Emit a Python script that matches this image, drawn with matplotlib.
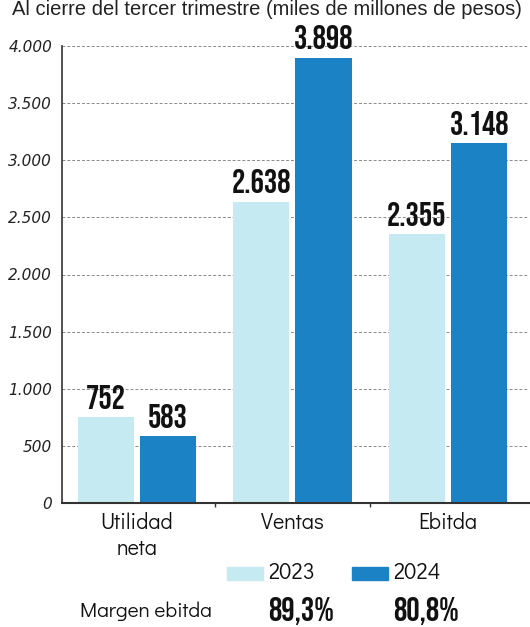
import matplotlib
matplotlib.use("Agg")
import matplotlib.pyplot as plt
import matplotlib.patches as mpatches
import numpy as np

categories = ["Utilidad\nneta", "Ventas", "Ebitda"]
values_2023 = [752, 2638, 2355]
values_2024 = [583, 3898, 3148]
labels_2023 = ["752", "2.638", "2.355"]
labels_2024 = ["583", "3.898", "3.148"]
series_names = ["2023", "2024"]
yticks = [0, 500, 1000, 1500, 2000, 2500, 3000, 3500, 4000]
ytick_labels = ["0", "500", "1.000", "1.500", "2.000", "2.500", "3.000", "3.500", "4.000"]
margin_label = "Margen ebitda"
margin_values = ["89,3%", "80,8%"]
title = "Al cierre del tercer trimestre (miles de millones de pesos)"

c_light = "#c6eaf2"
c_dark = "#1c82c6"
narrow = ["Bebas Neue", "DejaVu Sans"]
body = ["Didact Gothic", "DejaVu Sans"]
arial = ["Liberation Sans", "DejaVu Sans"]

fig = plt.figure(figsize=(5.3, 6.27), dpi=100)
fig.patch.set_facecolor("white")
ax = fig.add_axes([62/530, (627-503)/627, 1 - 62/530 - 0.002, (503-46)/627])

x = np.arange(len(categories))
w = 0.36
off = 0.2
b1 = ax.bar(x - off, values_2023, w, color=c_light, zorder=2)
b2 = ax.bar(x + off, values_2024, w, color=c_dark, zorder=2)

for bars, labs in ((b1, labels_2023), (b2, labels_2024)):
    for rect, lab in zip(bars, labs):
        ax.annotate(lab, (rect.get_x() + rect.get_width()/2, rect.get_height()),
                    xytext=(0, 6), textcoords="offset points", ha="center", va="bottom",
                    fontsize=24, family=narrow, color="#111111",
                    annotation_clip=False, zorder=4)

ax.set_xlim(-0.48, 2.52)
ax.set_ylim(0, 4000)
ax.set_yticks(yticks)
ax.set_yticklabels(ytick_labels, fontsize=11, style="oblique", color="#222222",
                   family="DejaVu Sans")
ax.tick_params(axis="y", length=0, pad=7)
ax.set_xticks(x)
ax.set_xticklabels(categories, fontsize=15.5, family=body, color="#111111", linespacing=1.25)
ax.tick_params(axis="x", length=0, pad=7)
ax.set_xticks([0.5, 1.5], minor=True)
ax.tick_params(axis="x", which="minor", length=3, width=1, color="#333333", direction="out")

for y in yticks[1:]:
    ax.axhline(y, color="#8a8a8a", lw=0.7, ls=(0, (3, 2)), zorder=1)

for s in ["top", "right"]:
    ax.spines[s].set_visible(False)
ax.spines["left"].set_color("#333333")
ax.spines["left"].set_linewidth(1.2)
ax.spines["bottom"].set_color("#333333")
ax.spines["bottom"].set_linewidth(1.5)

# title at very top
fig.text(12/530, 1.0, title, fontsize=14.5, family=arial, color="#222222",
         ha="left", va="top")

# legend
lg_y = 1 - 573/627
fig.patches.append(mpatches.Rectangle((227/530, 1 - 580/627), 36/530, 13/627,
                                      transform=fig.transFigure, color=c_light, figure=fig))
fig.text(268/530, lg_y, series_names[0], fontsize=16, family=body, color="#111111",
         ha="left", va="center")
fig.patches.append(mpatches.Rectangle((352/530, 1 - 580/627), 36/530, 13/627,
                                      transform=fig.transFigure, color=c_dark, figure=fig))
fig.text(393/530, lg_y, series_names[1], fontsize=16, family=body, color="#111111",
         ha="left", va="center")

mg_y = 1 - 611/627
fig.text(80/530, mg_y, margin_label, fontsize=15, family=body, color="#111111",
         ha="left", va="center")
fig.text(268/530, mg_y, margin_values[0], fontsize=24, family=narrow,
         color="#111111", ha="left", va="center")
fig.text(393/530, mg_y, margin_values[1], fontsize=24, family=narrow,
         color="#111111", ha="left", va="center")

fig.savefig("out.png", dpi=100)
